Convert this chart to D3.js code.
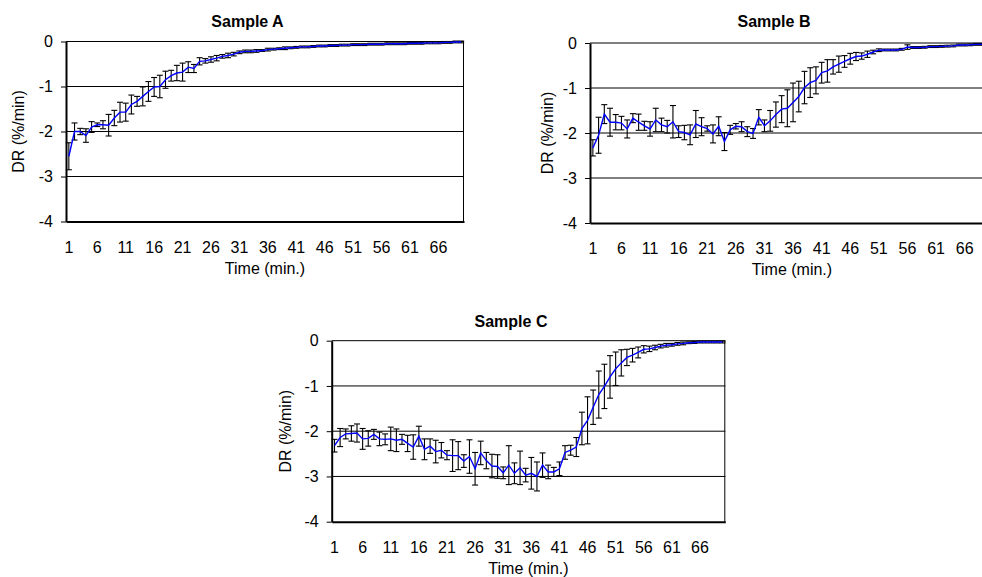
<!DOCTYPE html>
<html><head><meta charset="utf-8">
<script src="https://cdn.jsdelivr.net/npm/d3@7"></script>
<style>
html,body{margin:0;padding:0;background:#fff;}
svg{display:block;font-family:"Liberation Sans",Arial,sans-serif;}
</style></head><body>
<svg id="chart" width="982" height="577"></svg>
<script>
// ---- data ----
const timeCategories = [1,2,3,4,5,6,7,8,9,10,11,12,13,14,15,16,17,18,19,20,21,22,23,24,25,26,27,28,29,30,31,32,33,34,35,36,37,38,39,40,41,42,43,44,45,46,47,48,49,50,51,52,53,54,55,56,57,58,59,60,61,62,63,64,65,66,67,68,69,70];
const xTickLabels = [1,6,11,16,21,26,31,36,41,46,51,56,61,66];
const yTickValues = [0,-1,-2,-3,-4];
const panelTitles = ["Sample A","Sample B","Sample C"];
const yAxisTitle = "DR (%/min)";
const xAxisTitle = "Time (min.)";

const sampleAMean = [-2.55,-2.00,-2.00,-2.09,-1.90,-1.85,-1.85,-1.86,-1.70,-1.57,-1.57,-1.40,-1.33,-1.22,-1.11,-1.01,-1.00,-0.85,-0.76,-0.70,-0.68,-0.57,-0.60,-0.44,-0.43,-0.40,-0.37,-0.33,-0.31,-0.28,-0.24,-0.22,-0.22,-0.21,-0.20,-0.18,-0.17,-0.16,-0.15,-0.14,-0.13,-0.12,-0.12,-0.11,-0.10,-0.10,-0.09,-0.09,-0.08,-0.08,-0.07,-0.07,-0.07,-0.06,-0.06,-0.06,-0.05,-0.05,-0.05,-0.05,-0.04,-0.04,-0.04,-0.03,-0.03,-0.03,-0.02,-0.02,-0.01,-0.01];
const sampleAErr = [0.30,0.19,0.07,0.15,0.12,0.04,0.09,0.24,0.17,0.22,0.20,0.21,0.11,0.21,0.22,0.21,0.25,0.19,0.12,0.17,0.20,0.12,0.09,0.08,0.05,0.06,0.06,0.04,0.05,0.04,0.03,0.03,0.03,0.03,0.02,0.03,0.02,0.02,0.03,0.02,0.02,0.02,0.02,0.02,0.02,0.02,0.02,0.02,0.02,0.02,0.02,0.02,0.02,0.02,0.02,0.02,0.02,0.02,0.02,0.02,0.02,0.02,0.02,0.02,0.02,0.02,0.02,0.02,0.02,0.02];

const sampleBMean = [-2.33,-2.05,-1.58,-1.76,-1.76,-1.78,-1.91,-1.67,-1.76,-1.84,-1.91,-1.71,-1.82,-1.86,-1.75,-1.97,-1.99,-2.04,-1.80,-1.86,-1.90,-2.02,-1.85,-2.19,-1.93,-1.85,-1.86,-1.97,-2.01,-1.65,-1.84,-1.73,-1.59,-1.47,-1.45,-1.32,-1.19,-0.99,-0.88,-0.83,-0.66,-0.62,-0.53,-0.47,-0.41,-0.35,-0.30,-0.29,-0.25,-0.20,-0.16,-0.155,-0.155,-0.155,-0.14,-0.09,-0.10,-0.10,-0.095,-0.08,-0.08,-0.075,-0.07,-0.065,-0.045,-0.045,-0.04,-0.03,-0.03,-0.025];
const sampleBErr = [0.18,0.40,0.21,0.31,0.17,0.15,0.20,0.10,0.18,0.10,0.16,0.26,0.15,0.14,0.36,0.13,0.16,0.22,0.30,0.20,0.06,0.20,0.21,0.20,0.10,0.06,0.11,0.11,0.11,0.17,0.13,0.23,0.28,0.30,0.41,0.43,0.34,0.36,0.33,0.30,0.23,0.25,0.16,0.18,0.13,0.12,0.09,0.07,0.07,0.04,0.03,0.02,0.02,0.02,0.02,0.05,0.02,0.02,0.02,0.02,0.02,0.02,0.02,0.02,0.02,0.02,0.02,0.02,0.02,0.02];

const sampleCMean = [-2.32,-2.14,-2.06,-2.05,-2.04,-2.17,-2.16,-2.07,-2.17,-2.18,-2.17,-2.20,-2.18,-2.27,-2.35,-2.11,-2.40,-2.33,-2.45,-2.42,-2.53,-2.54,-2.54,-2.66,-2.56,-2.83,-2.48,-2.65,-2.77,-2.78,-2.92,-2.75,-2.93,-2.81,-2.97,-2.93,-3.00,-2.75,-2.90,-2.90,-2.83,-2.47,-2.42,-2.35,-1.94,-1.76,-1.47,-1.19,-1.01,-0.80,-0.62,-0.49,-0.37,-0.32,-0.26,-0.19,-0.18,-0.15,-0.12,-0.10,-0.09,-0.07,-0.06,-0.045,-0.04,-0.03,-0.03,-0.03,-0.03,-0.03];
const sampleCErr = [0.14,0.20,0.11,0.17,0.20,0.23,0.17,0.11,0.15,0.12,0.26,0.25,0.11,0.18,0.27,0.22,0.23,0.16,0.25,0.17,0.10,0.35,0.31,0.14,0.37,0.36,0.26,0.18,0.26,0.26,0.13,0.43,0.23,0.37,0.15,0.35,0.32,0.27,0.15,0.10,0.15,0.15,0.11,0.21,0.36,0.52,0.38,0.52,0.49,0.47,0.37,0.29,0.18,0.15,0.12,0.08,0.06,0.05,0.04,0.04,0.03,0.03,0.03,0.02,0.02,0.02,0.02,0.02,0.02,0.02];

// ---- layout ----
const panels = [
  {title: panelTitles[0], mean: sampleAMean, err: sampleAErr,
   left: 66, right: 464, top: 41.5, bottom: 221.5,
   titleX: 247.5, titleY: 27, yTitleX: 18, xTitleX: 265, xTitleY: 274},
  {title: panelTitles[1], mean: sampleBMean, err: sampleBErr,
   left: 590, right: 990.4, top: 43, bottom: 223,
   titleX: 774, titleY: 27, yTitleX: 547, xTitleX: 792, xTitleY: 275},
  {title: panelTitles[2], mean: sampleCMean, err: sampleCErr,
   left: 331.7, right: 725.3, top: 340.7, bottom: 521.7,
   titleX: 511, titleY: 327, yTitleX: 285, xTitleX: 528.5, xTitleY: 574}
];

const svg = d3.select("#chart");
svg.append("rect").attr("width", 982).attr("height", 577).attr("fill", "#fff");

function drawPanel(p) {
  const g = svg.append("g");
  const x = d3.scaleBand().domain(timeCategories).range([p.left, p.right]).padding(0);
  const y = d3.scaleLinear().domain([-4, 0]).range([p.bottom, p.top]);
  const cx = d => x(d) + x.bandwidth() / 2;

  // gridlines
  g.append("g").selectAll("line").data(yTickValues.filter(d => d !== -4)).join("line")
    .attr("x1", p.left).attr("x2", p.right)
    .attr("y1", d => y(d)).attr("y2", d => y(d))
    .attr("stroke", "#000").attr("stroke-width", 1);
  // right border
  g.append("line").attr("x1", p.right - 0.5).attr("x2", p.right - 0.5)
    .attr("y1", p.top).attr("y2", p.bottom).attr("stroke", "#000").attr("stroke-width", 1);

  // x axis
  const xAxis = d3.axisBottom(x).tickValues(xTickLabels).tickSize(0).tickPadding(20).tickSizeOuter(0);
  const xg = g.append("g").attr("transform", `translate(0,${p.bottom})`).call(xAxis);
  xg.select(".domain").attr("stroke", "#000").attr("stroke-width", 2);
  xg.selectAll("text").attr("font-size", 16).attr("fill", "#000")
    .attr("font-family", '"Liberation Sans",Arial,sans-serif');

  // y axis
  const yAxis = d3.axisLeft(y).tickValues(yTickValues).tickSize(5).tickPadding(8).tickSizeOuter(0)
    .tickFormat(d => String(d));
  const yg = g.append("g").attr("transform", `translate(${p.left},0)`).call(yAxis);
  yg.select(".domain").attr("stroke", "#000").attr("stroke-width", 2);
  yg.selectAll(".tick line").attr("stroke", "#000");
  yg.selectAll("text").attr("font-size", 16).attr("fill", "#000")
    .attr("font-family", '"Liberation Sans",Arial,sans-serif');

  const pts = timeCategories.map((t, i) => ({t, v: p.mean[i], e: p.err[i]}));

  // error bars
  const eb = g.append("g").attr("stroke", "#000").attr("stroke-width", 1.1);
  eb.selectAll("line.v").data(pts).join("line").attr("class", "v")
    .attr("x1", d => cx(d.t)).attr("x2", d => cx(d.t))
    .attr("y1", d => y(d.v + d.e)).attr("y2", d => y(d.v - d.e));
  eb.selectAll("line.ct").data(pts).join("line").attr("class", "ct")
    .attr("x1", d => cx(d.t) - 3).attr("x2", d => cx(d.t) + 3)
    .attr("y1", d => y(d.v + d.e)).attr("y2", d => y(d.v + d.e));
  eb.selectAll("line.cb").data(pts).join("line").attr("class", "cb")
    .attr("x1", d => cx(d.t) - 3).attr("x2", d => cx(d.t) + 3)
    .attr("y1", d => y(d.v - d.e)).attr("y2", d => y(d.v - d.e));

  // mean line
  const line = d3.line().x(d => cx(d.t)).y(d => y(d.v));
  g.append("path").datum(pts).attr("d", line)
    .attr("fill", "none").attr("stroke", "#0000ff").attr("stroke-width", 1.4);

  // titles
  g.append("text").attr("x", p.titleX).attr("y", p.titleY).attr("text-anchor", "middle")
    .attr("font-size", 16).attr("font-weight", "bold").text(p.title);
  g.append("text").attr("x", p.xTitleX).attr("y", p.xTitleY).attr("text-anchor", "middle")
    .attr("font-size", 16).text(xAxisTitle);
  const cy = (p.top + p.bottom) / 2;
  g.append("text").attr("transform", `translate(${p.yTitleX},${cy}) rotate(-90)`)
    .attr("text-anchor", "middle").attr("dominant-baseline", "central")
    .attr("font-size", 16).text(yAxisTitle);
}

panels.forEach(drawPanel);
</script>
</body></html>
